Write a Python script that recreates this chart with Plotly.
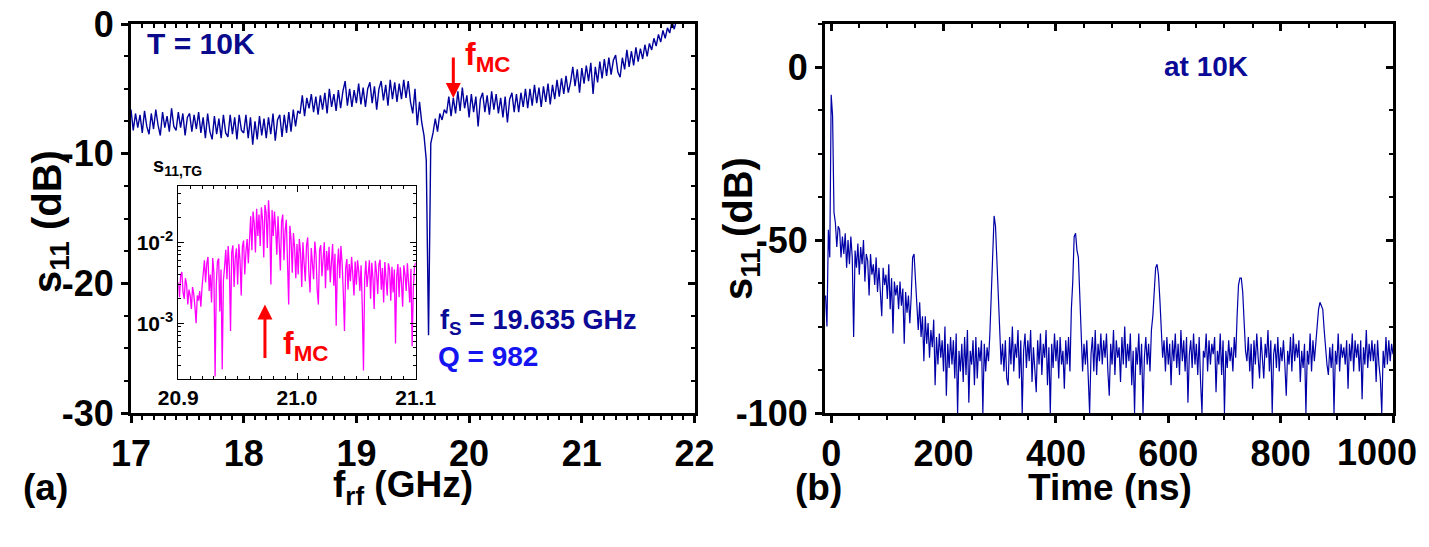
import numpy as np
import plotly.graph_objects as go

# page is shown inside a body with an 8px default margin
OFF = 8
W, H = 1429 - OFF, 547 - 2 * OFF
FONT = "Liberation Sans, Arial, sans-serif"
NARROW = "Liberation Sans Narrow, Arial Narrow, Liberation Sans, sans-serif"

# ---------------- data ----------------
# (a) main: s11 vs rf frequency, uniform sweep
freq_start_ghz = 17.0
freq_step_ghz = 0.02
s11_freq_db = [
    # 17.00 - 17.98
    -6.6, -8.2, -6.9, -8.0, -7.0, -8.4, -6.7, -7.9, -8.5, -6.9,
    -8.1, -6.6, -7.8, -8.6, -6.8, -8.0, -7.1, -8.3, -6.5, -7.9,
    -8.2, -6.8, -8.0, -6.9, -8.6, -7.2, -6.9, -8.3, -7.0, -8.1,
    -6.8, -8.4, -7.2, -8.8, -6.9, -8.3, -8.9, -7.1, -8.5, -7.3,
    -8.8, -7.0, -8.4, -8.7, -7.0, -8.5, -7.2, -8.9, -7.0, -8.2,
    # 18.00 - 18.48
    -8.4, -7.0, -8.8, -7.2, -9.3, -7.5, -8.9, -7.1, -8.6, -7.3,
    -8.8, -7.2, -8.5, -6.9, -9.0, -7.4, -7.0, -8.7, -7.0, -8.4,
    -6.8, -8.3, -6.6, -7.9, -6.7,
    # 18.50 - 18.98
    -6.9, -5.5, -7.1, -5.7, -6.5, -5.4, -6.8, -5.6, -7.0, -5.5,
    -6.6, -5.3, -6.9, -5.0, -6.4, -5.4, -6.7, -5.1, -6.5, -5.2,
    -4.4, -6.3, -5.0, -6.4, -5.1,
    # 19.00 - 19.56
    -6.1, -4.6, -6.2, -4.9, -6.4, -5.0, -4.5, -6.1, -4.8, -6.6,
    -5.0, -4.4, -5.9, -4.7, -6.3, -4.3, -5.8, -4.5, -6.0, -4.6,
    -5.8, -4.3, -5.7, -4.4, -6.0, -6.9, -5.0, -7.8, -6.0,
    # 19.58 - 19.78 (resonance dip)
    -7.6, -8.6, -10.5, -24.0, -9.2, -8.4, -7.3, -8.3, -6.9, -7.4, -6.6,
    # 19.80 - 20.40
    -6.9, -5.6, -7.1, -5.7, -6.9, -5.2, -6.7, -4.9, -6.5, -5.5,
    -7.2, -5.4, -6.8, -5.6, -7.9, -5.8, -5.3, -6.8, -5.5, -7.0,
    -5.2, -6.6, -5.4, -6.9, -5.7, -7.2, -5.6, -7.6, -5.8, -5.3, -6.8,
    # 20.42 - 20.88
    -5.4, -6.8, -5.3, -6.4, -5.0, -6.5, -5.0, -6.3, -4.7, -6.1,
    -4.9, -6.4, -4.8, -6.0, -4.6, -6.2, -4.7, -5.8, -4.3, -5.6,
    -4.2, -5.4, -4.0, -5.3,
    # 20.90 - 21.28
    -4.5, -3.3, -4.8, -3.5, -5.3, -3.4, -4.6, -3.2, -4.4, -3.0,
    -5.4, -3.3, -4.5, -2.9, -4.2, -2.7, -4.0, -2.6, -3.9, -2.8,
    # 21.30 - 21.60
    -2.4, -3.7, -4.1, -2.6, -3.5, -2.0, -3.3, -2.1, -3.2, -1.8,
    -2.9, -1.9, -2.7, -1.6, -2.5, -1.5,
    # 21.62 - 21.84
    -2.0, -1.1, -1.7, -0.8, -1.4, -0.5, -1.1, -0.3, -0.7, 0.2, -0.4, 0.3,
]

# (a) inset: s11,TG (linear, in units of 1e-3) vs frequency
tg_start_ghz = 20.9
tg_step_ghz = 0.001
s11_tg_e3 = [
    3.2, 2.1, 3.9, 4.3, 2.4, 2.0, 3.6, 3.0, 1.7, 2.6,
    2.2, 1.5, 2.8, 2.3, 1.6, 1.0, 2.2, 1.9, 2.5, 1.6,
    2.8, 4.5, 6.0, 3.2, 5.5, 6.6, 2.5, 4.0, 1.8, 6.4,
    4.2, 0.22, 3.0, 5.8, 6.3, 1.4, 4.6, 0.27, 3.4, 5.0,
    8.1, 3.5, 9.0, 5.0, 0.8, 7.5, 9.2, 2.8, 6.5, 8.4,
    3.0, 9.5, 6.0, 2.2, 8.8, 10.5, 4.0, 7.8, 11.0, 5.5,
    14, 21, 8.0, 24, 17, 7.5, 26, 12, 22, 9.0,
    27, 19, 6.5, 29, 23, 8.5, 33, 18, 3.0, 25,
    12, 24, 15, 7.0, 21, 9.5, 4.5, 18, 22, 6.0,
    14, 19, 5.0, 1.7, 16, 11, 4.2, 13, 8.5, 3.6,
    9.5, 4.0, 11, 7.5, 2.8, 10, 5.5, 3.3, 9.0, 11.5,
    4.2, 2.4, 8.5, 6.0, 3.5, 10.2, 7.0, 2.6, 1.7, 8.0,
    9.2, 3.8, 6.5, 10, 2.7, 7.8, 4.5, 8.8, 3.2, 6.0,
    9.5, 2.9, 7.2, 0.93, 5.0, 8.4, 3.6, 9.0, 5.5, 2.4,
    0.8, 4.8, 6.2, 2.6, 5.4, 3.3, 6.6, 4.0, 2.2, 5.8,
    3.0, 6.0, 4.4, 2.5, 5.2, 1.6, 0.26, 3.5, 5.9, 2.8,
    4.5, 6.0, 2.0, 5.6, 3.6, 1.5, 5.9, 4.2, 2.3, 5.3,
    6.1, 2.6, 4.8, 1.8, 5.7, 3.9, 2.2, 5.5, 4.6, 1.9,
    5.0, 2.4, 4.6, 0.56, 3.8, 5.4, 2.1, 4.9, 3.2, 1.6,
    5.2, 4.0, 2.5, 5.5, 3.0, 1.8, 4.7, 0.52, 2.7, 5.0, 5.6,
]

# (b) s11 vs time, 2.5 ns sampling from -10 ns
time_start_ns = -10.0
time_step_ns = 2.5
s11_time_db = [
    -66, -75, -47, -55, -8, -14, -42, -45, -52, -46,
    -47, -55, -49, -54, -48, -58, -50, -57, -49, -55,
    -78, -53, -58, -51, -60, -52, -57, -50, -62, -54,
    -56, -66, -54, -60, -57, -63, -55, -65, -58, -64,
    -72, -58, -63, -60, -67, -57, -70, -61, -77, -62,
    -66, -63, -70, -62, -69, -64, -80, -65, -71, -66,
    -74, -66, -55, -54, -62, -70, -76, -68, -78, -72,
    -85, -72, -80, -74, -84, -76, -81, -73, -92, -78,
    -86, -77, -84, -79, -88, -75, -95, -80, -87, -78,
    -86, -79, -90, -77, -100, -82, -88, -80, -91, -78,
    -89, -76, -97, -82, -86, -79, -92, -78, -90, -81,
    -85, -79, -100, -80, -88, -81, -85, -77, -64, -50,
    -43, -46, -56, -68, -78, -86, -80, -88, -79, -90,
    -92, -78, -86, -75, -88, -80, -84, -76, -90, -79,
    -100, -82, -77, -87, -79, -85, -76, -91, -81, -88,
    -94, -79, -86, -77, -89, -80, -84, -76, -92, -81,
    -100, -80, -87, -77, -85, -79, -90, -78, -86, -82,
    -93, -79, -86, -78, -88, -70, -62, -49, -48, -53,
    -55, -66, -78, -88, -80, -86, -79, -91, -100, -83,
    -78, -88, -76, -89, -80, -85, -77, -86, -79, -84,
    -77, -88, -95, -80, -86, -76, -89, -79, -84, -81,
    -91, -78, -86, -75, -87, -80, -85, -77, -92, -82,
    -100, -81, -86, -77, -89, -80, -100, -84, -78, -86,
    -80, -88, -76, -72, -64, -58, -57, -60, -67, -76,
    -84, -79, -88, -78, -86, -80, -92, -79, -85, -77,
    -87, -80, -89, -76, -85, -79, -88, -78, -97, -83,
    -79, -87, -77, -86, -80, -89, -78, -91, -100, -82,
    -84, -77, -88, -79, -86, -80, -83, -78, -94, -82,
    -86, -77, -89, -79, -100, -82, -87, -79, -85, -81,
    -88, -78, -84, -72, -63, -61, -61, -65, -72, -82,
    -85, -78, -88, -80, -93, -79, -86, -77, -84, -90,
    -78, -86, -90, -80, -84, -76, -88, -79, -100, -83,
    -80, -87, -78, -88, -81, -85, -79, -86, -95, -82,
    -86, -78, -88, -77, -85, -80, -84, -79, -91, -82,
    -87, -80, -100, -82, -86, -77, -88, -79, -85, -80,
    -74, -70, -68, -69, -70, -76, -82, -86, -89, -81,
    -87, -80, -100, -82, -86, -77, -88, -80, -84, -81,
    -86, -79, -93, -80, -85, -77, -88, -79, -84, -80,
    -88, -79, -96, -81, -86, -76, -87, -80, -85, -79,
    -85, -80, -91, -79, -86, -90, -100, -82, -87, -78,
    -86, -79, -85, -80, -83,
]

freq_ghz = freq_start_ghz + freq_step_ghz * np.arange(len(s11_freq_db))
tg_ghz = tg_start_ghz + tg_step_ghz * np.arange(len(s11_tg_e3))
s11_tg = np.array(s11_tg_e3) * 1e-3
time_ns = time_start_ns + time_step_ns * np.arange(len(s11_time_db))

# ---------------- figure ----------------
def fx(x):  # screen px -> paper x
    return (x - OFF) / W


def fy(y):  # screen px -> paper y
    return 1 - (y - OFF) / H


fig = go.Figure()
fig.add_trace(go.Scatter(x=freq_ghz, y=s11_freq_db, mode="lines",
                         line=dict(color="#00009c", width=1.4),
                         xaxis="x", yaxis="y", showlegend=False))
fig.add_trace(go.Scatter(x=time_ns, y=s11_time_db, mode="lines",
                         line=dict(color="#0000a8", width=1.2),
                         xaxis="x2", yaxis="y2", showlegend=False))
# mirror-tick overlays (inside ticks on top/right)
fig.add_trace(go.Scatter(x=[None], y=[None], xaxis="x3", yaxis="y3", showlegend=False, hoverinfo="skip"))
fig.add_trace(go.Scatter(x=[None], y=[None], xaxis="x4", yaxis="y4", showlegend=False, hoverinfo="skip"))
fig.add_trace(go.Scatter(x=tg_ghz, y=s11_tg, mode="lines",
                         line=dict(color="#ff00ff", width=1.3),
                         xaxis="x5", yaxis="y5", showlegend=False))

TICKFONT = dict(family=NARROW, size=36, color="black", weight="bold")


def minor(direction, dtick, tick0=None):
    d = dict(ticks=direction, ticklen=4, tickwidth=2, tickcolor="black", dtick=dtick, showgrid=False)
    if tick0 is not None:
        d["tick0"] = tick0
    return d


def main_axis(**kw):
    d = dict(showline=True, linewidth=3, linecolor="black", mirror=True,
             ticks="outside", ticklen=7, tickwidth=3, tickcolor="black",
             showgrid=False, zeroline=False, tickfont=TICKFONT,
             ticklabeloverflow="allow")
    d.update(kw)
    return d


def mirror_axis(**kw):
    d = dict(showline=False, ticks="inside", ticklen=7, tickwidth=3, tickcolor="black",
             showgrid=False, zeroline=False, showticklabels=False)
    d.update(kw)
    return d


xa_dom = [fx(131), fx(694.5)]
xb_dom = [fx(825), fx(1393)]
y_dom = [fy(413), fy(24)]

fx_ticks = [17, 18, 19, 20, 21, 22]
fy_ticks = [-30, -20, -10, 0]
tx_ticks = [0, 200, 400, 600, 800, 1000]
ty_ticks = [-100, -50, 0]
# the last time label sits at the page edge; it is drawn as a right-aligned text below
tx_text = [str(v) for v in tx_ticks[:-1]] + [""]

fig.update_layout(
    width=W, height=H, autosize=False,
    margin=dict(l=0, r=0, t=0, b=0, autoexpand=False),
    paper_bgcolor="white", plot_bgcolor="white",
    showlegend=False,
    xaxis=main_axis(domain=xa_dom, range=[17, 22], anchor="y",
                    tickvals=fx_ticks, ticktext=[str(v) for v in fx_ticks],
                    minor=minor("outside", 0.1)),
    yaxis=main_axis(domain=y_dom, range=[-30, 0], anchor="x",
                    tickvals=fy_ticks, ticktext=[str(v) for v in fy_ticks],
                    minor=minor("outside", 2.5, 0)),
    xaxis3=mirror_axis(overlaying="x", side="top", anchor="y", range=[17, 22], tickvals=fx_ticks,
                       minor=minor("inside", 0.1)),
    yaxis3=mirror_axis(overlaying="y", side="right", anchor="x", range=[-30, 0], tickvals=fy_ticks,
                       minor=minor("inside", 2.5, 0)),
    xaxis2=main_axis(domain=xb_dom, range=[-11, 1000], anchor="y2",
                     tickvals=tx_ticks, ticktext=tx_text,
                     minor=minor("outside", 50, 0)),
    yaxis2=main_axis(domain=y_dom, range=[-100, 12.5], anchor="x2",
                     tickvals=ty_ticks, ticktext=[str(v) for v in ty_ticks],
                     minor=minor("outside", 12.5, 0)),
    xaxis4=mirror_axis(overlaying="x2", side="top", anchor="y2", range=[-11, 1000], tickvals=tx_ticks,
                       minor=minor("inside", 50, 0)),
    yaxis4=mirror_axis(overlaying="y2", side="right", anchor="x2", range=[-100, 12.5], tickvals=ty_ticks,
                       minor=minor("inside", 12.5, 0)),
    xaxis5=dict(domain=[fx(178.3), fx(415.7)], range=[20.9, 21.1], anchor="y5",
                showline=True, linewidth=1, linecolor="black", mirror="allticks",
                ticks="inside", ticklen=6, tickwidth=1, tickcolor="black",
                tickvals=[20.9, 21.0, 21.1], ticktext=["20.9", "21.0", "21.1"],
                tickfont=dict(family=FONT, size=21, color="black", weight="bold"),
                minor=dict(ticks="inside", ticklen=3, tickwidth=1, tickcolor="black", dtick=0.01, showgrid=False),
                showgrid=False, zeroline=False),
    yaxis5=dict(domain=[fy(379), fy(185.7)], type="log", range=[-3.69, -1.30], anchor="x5",
                showline=True, linewidth=1, linecolor="black", mirror="allticks",
                ticks="inside", ticklen=6, tickwidth=1, tickcolor="black",
                tickvals=[1e-3, 1e-2], ticktext=["10<sup>-3</sup>", "10<sup>-2</sup>"],
                tickfont=dict(family=FONT, size=21, color="black", weight="bold"),
                minor=dict(ticks="inside", ticklen=3, tickwidth=1, tickcolor="black", dtick="D1", showgrid=False),
                showgrid=False, zeroline=False),
)


def txt(text, x, y, size, color="black", angle=0, family=FONT, xanchor="center"):
    return dict(text=text, x=fx(x), y=fy(y), xref="paper", yref="paper", showarrow=False,
                xanchor=xanchor, yanchor="middle", textangle=angle,
                font=dict(family=family, size=size, color=color, weight="bold"))


ann = [
    txt("T = 10K", 201, 43, 30, "#0a0a8c"),
    txt("f<sub>MC</sub>", 487, 57, 32, "#ff0000"),
    txt("f<sub>S</sub> = 19.635 GHz", 538, 322, 27, "#0a0a96"),
    txt("Q = 982", 488, 356, 28, "#1414f0"),
    txt("at 10K", 1206, 66, 28, "#0a0a96"),
    txt("f<sub>MC</sub>", 305, 345, 32, "#ff0000"),
    txt("s<sub>11,TG</sub>", 177, 166, 20, "black"),
    txt("s<sub>11</sub> (dB)", 50, 222, 40, "black", -90),
    txt("s<sub>11</sub> (dB)", 741, 229, 40, "black", -90),
    txt("f<sub>rf</sub> (GHz)", 403, 487, 37, "black"),
    txt("Time (ns)", 1110, 487, 37, "black"),
    txt("(a)", 45, 487, 37, "black"),
    txt("(b)", 818, 487, 37, "black"),
    txt(str(tx_ticks[-1]), 1419, 452, 36, "black", family=NARROW, xanchor="right"),
    dict(x=19.86, y=-5.7, xref="x", yref="y", text="", showarrow=True,
         ax=0, ay=-42, arrowcolor="#ff0000", arrowwidth=3, arrowhead=2, arrowsize=1),
    dict(x=20.973, y=-2.77, xref="x5", yref="y5", text="", showarrow=True,
         ax=0, ay=55, arrowcolor="#ff0000", arrowwidth=3, arrowhead=2, arrowsize=1),
]
fig.update_layout(annotations=ann)

fig.write_html("out.html")
